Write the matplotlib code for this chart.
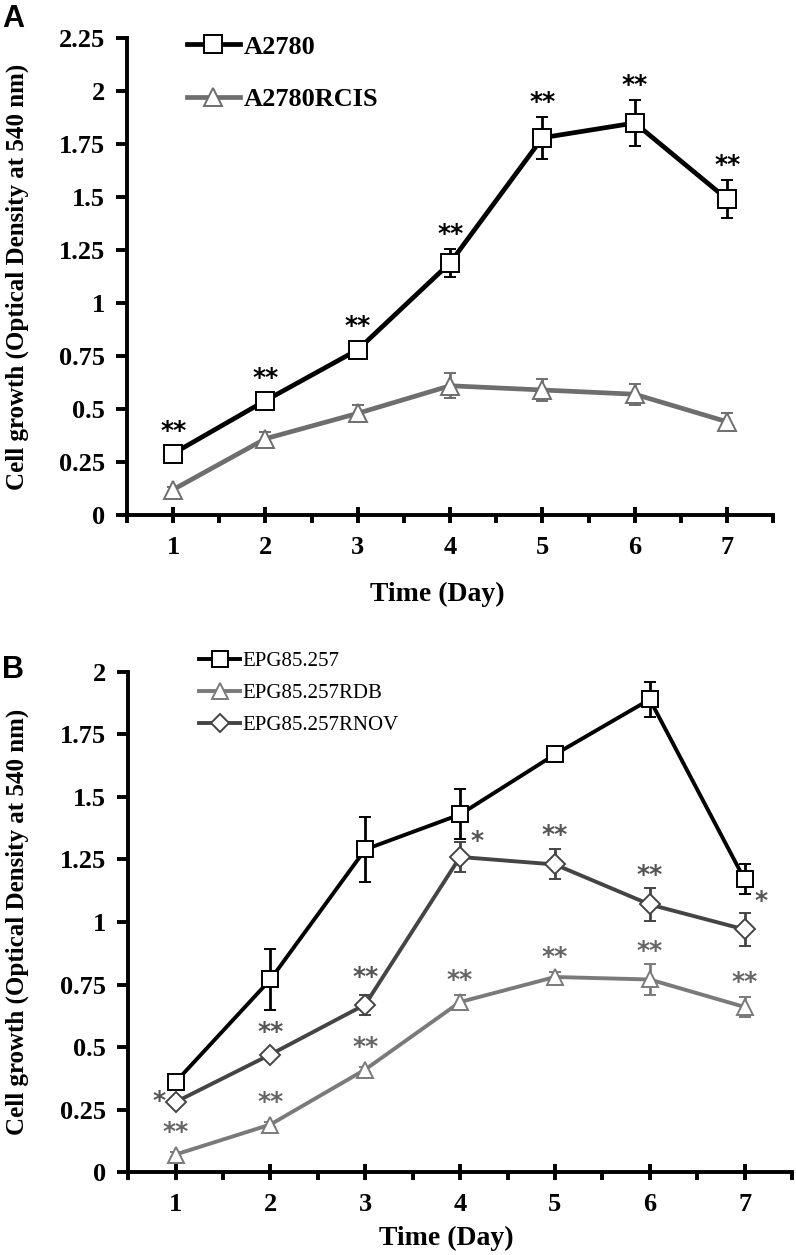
import matplotlib
matplotlib.use('Agg')

import matplotlib.pyplot as plt
from matplotlib.lines import Line2D
from matplotlib.ticker import FixedLocator, NullFormatter

plt.rcParams['font.family'] = ['Liberation Serif', 'DejaVu Serif']

# ===== DATA =====
days = [1, 2, 3, 4, 5, 6, 7]

# Panel A
a2780 = [0.29, 0.54, 0.78, 1.19, 1.78, 1.85, 1.49]
a2780_err = [0.01, 0.01, 0.03, 0.065, 0.10, 0.11, 0.09]
a2780_sig = ['**', '**', '**', '**', '**', '**', '**']
rcis = [0.12, 0.36, 0.48, 0.61, 0.59, 0.57, 0.44]
rcis_err = [0.01, 0.03, 0.04, 0.06, 0.05, 0.05, 0.04]

# Panel B
epg = [0.36, 0.77, 1.29, 1.43, 1.67, 1.89, 1.17]
epg_err = [0.01, 0.12, 0.13, 0.10, 0.01, 0.07, 0.06]
rdb = [0.07, 0.19, 0.41, 0.68, 0.78, 0.77, 0.66]
rdb_err = [0.01, 0.01, 0.01, 0.03, 0.02, 0.06, 0.04]
rdb_sig = ['**', '**', '**', '**', '**', '**', '**']
rnov = [0.28, 0.47, 0.67, 1.26, 1.23, 1.07, 0.97]
rnov_err = [0.01, 0.01, 0.04, 0.06, 0.06, 0.065, 0.065]
rnov_sig = ['*', '**', '**', '*', '**', '**', '*']

fig = plt.figure(figsize=(7.96, 12.55), dpi=100)
axA = fig.add_axes([0.1595, 0.5896, 0.812, 0.380])
axB = fig.add_axes([0.161, 0.0661, 0.834, 0.3985])


def style_axis(ax, ymax, xlab_y, ylab_x):
    ax.set_xlim(0.5, 7.5)
    ax.set_ylim(0, ymax)
    for s in ['top', 'right']:
        ax.spines[s].set_visible(False)
    for s in ['left', 'bottom']:
        ax.spines[s].set_linewidth(2.8)
    n = int(round(ymax / 0.25))
    ax.set_yticks([v * 0.25 for v in range(n + 1)])
    ax.set_yticklabels([f'{v * 0.25:g}' for v in range(n + 1)])
    ax.xaxis.set_major_locator(FixedLocator(days))
    ax.xaxis.set_minor_locator(FixedLocator([d - 0.5 for d in days] + [7.5]))
    ax.xaxis.set_minor_formatter(NullFormatter())
    ax.tick_params(axis='y', direction='out', length=8, width=2.8, pad=8,
                   labelsize=19)
    ax.tick_params(axis='x', which='major', direction='inout', length=12,
                   width=2.8, pad=9, labelsize=19)
    ax.tick_params(axis='x', which='minor', direction='out', length=6,
                   width=2.8)
    for lab in ax.get_xticklabels() + ax.get_yticklabels():
        lab.set_fontweight('bold')
    ax.set_xlabel('Time (Day)', fontsize=20, fontweight='bold')
    ax.xaxis.set_label_coords(0.48, xlab_y)
    ax.set_ylabel('Cell growth (Optical Density at 540 nm)', fontsize=18,
                  fontweight='bold')
    ax.yaxis.set_label_coords(ylab_x, 0.5)


def series(ax, y, err, color, marker, ms, lw):
    ax.errorbar(days, y, yerr=err, color=color, lw=lw, marker=marker, ms=ms,
                mfc='white', mec=color, mew=1.4, ecolor=color, elinewidth=2,
                capsize=4.5, capthick=2.2, zorder=3)
    return Line2D([], [], color=color, lw=lw, marker=marker, ms=ms * 0.95,
                  mfc='white', mec=color, mew=1.4)


def stars(ax, y, err, sig, color, offsets):
    for d, v, e, s, (dx, dy) in zip(days, y, err, sig, offsets):
        ax.annotate(s, (d, v + e), xytext=(dx, dy), textcoords='offset points',
                    ha='center', va='bottom', fontsize=18, fontweight='bold',
                    color=color, family='DejaVu Sans')


# ===== PANEL A =====
style_axis(axA, 2.25, -0.14, -0.152)
hA1 = series(axA, a2780, a2780_err, 'black', 's', 13, 3.4)
hA2 = series(axA, rcis, rcis_err, '#6e6e6e', '^', 13, 3.4)
stars(axA, a2780, a2780_err, a2780_sig, 'black',
      [(0, 6), (0, 6), (0, 4), (0, 2), (0, 2), (0, 2), (0, 2)])
axA.legend([hA1, hA2], ['A2780', 'A2780RCIS'], loc='upper left',
           bbox_to_anchor=(0.056, 1.056), frameon=False, handlelength=2.0,
           labelspacing=1.1, handletextpad=0.15,
           prop={'weight': 'bold', 'size': 19})

# ===== PANEL B =====
style_axis(axB, 2.0, -0.108, -0.15)
hB1 = series(axB, epg, epg_err, 'black', 's', 12, 2.8)
hB2 = series(axB, rdb, rdb_err, '#7a7a7a', '^', 12, 2.8)
hB3 = series(axB, rnov, rnov_err, '#444444', 'D', 10, 2.8)
stars(axB, rdb, rdb_err, rdb_sig, '#666666',
      [(0, 6), (0, 6), (0, 6), (0, 2), (0, 2), (0, 1), (0, 2)])
stars(axB, rnov, rnov_err, rnov_sig, '#555555',
      [(-12, -10), (0, 6), (0, 4), (12, -8), (0, 2), (0, 1), (12, 0)])
axB.legend([hB1, hB2, hB3], ['EPG85.257', 'EPG85.257RDB', 'EPG85.257RNOV'],
           loc='upper left', bbox_to_anchor=(0.078, 1.078), frameon=False,
           handlelength=2.0, labelspacing=0.6, handletextpad=0.1,
           prop={'size': 15})

fig.text(0.003, 0.985, 'A', fontsize=22, fontweight='bold',
         family='Liberation Sans', va='center')
fig.text(0.003, 0.466, 'B', fontsize=22, fontweight='bold',
         family='Liberation Sans', va='center')

plt.savefig('out.png', dpi=100)
